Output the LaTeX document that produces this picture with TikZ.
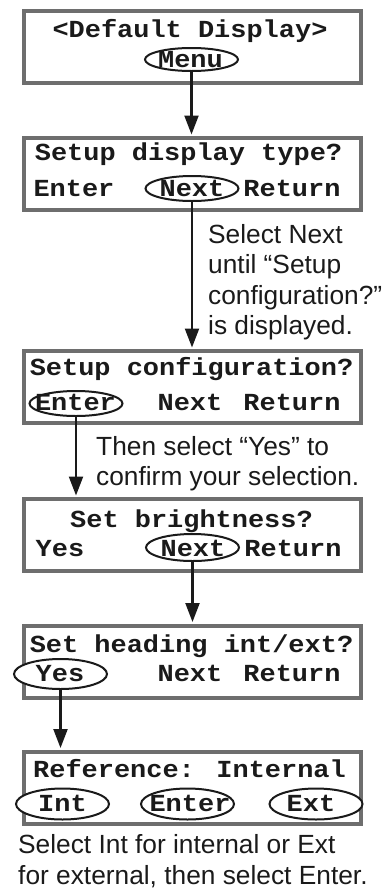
\documentclass[tikz,border=0pt]{standalone}
\usepackage{fontspec}
\setmainfont{Liberation Sans}
\newfontfamily\lcdfont{Liberation Mono}[FakeStretch=1.1]
\usetikzlibrary{arrows.meta,shapes.geometric}
\definecolor{boxgray}{HTML}{6E6E6E}
\definecolor{ink}{HTML}{1A1A1A}
\begin{document}
\begin{tikzpicture}[x=1pt,y=-1pt,
  lcdbox/.style={draw=boxgray,line width=4pt,fill=white,minimum width=337pt,minimum height=72pt,inner sep=0pt},
  lcd/.style={font={\lcdfont\bfseries\fontsize{24.5}{28}\selectfont},text=ink,inner sep=0pt,anchor=base},
  btn/.style={ellipse,draw=ink,line width=2pt,fill=white,minimum width=93pt,inner sep=0pt},
  note/.style={font={\fontsize{26.3}{30.5}\selectfont},text=ink,inner sep=0pt,anchor=base west},
  flow/.style={draw=ink,line width=2.2pt,-{Triangle[length=19pt,width=14pt]},shorten >=1.5pt}]

\useasboundingbox (0,0) rectangle (386,895);

% display boxes
\node[lcdbox] (b1) at (192.5,47) {};
\node[lcdbox] (b2) at (192.5,174) {};
\node[lcdbox] (b3) at (192.5,387) {};
\node[lcdbox] (b4) at (192.5,535) {};
\node[lcdbox] (b5) at (192.5,661.5) {};
\node[lcdbox] (b6) at (192.5,787.5) {};

% button ellipses
\node[btn,minimum height=23pt] (menuE) at (191.5,59.5) {};
\node[btn,minimum height=25pt] (nextA) at (192,188.5) {};
\node[btn,minimum height=25pt] (enterA) at (76,403.5) {};
\node[btn,minimum height=27pt] (nextB) at (192.5,547.5) {};
\node[btn,minimum height=30pt] (yesE) at (60.5,674) {};
\node[btn,minimum height=31pt] (intE) at (62.5,804) {};
\node[btn,minimum height=31pt] (enterB) at (187.5,804) {};
\node[btn,minimum height=31pt] (extE) at (316,804) {};

% box 1
\node[lcd] (t1a) at (190,37) {<Default Display>};
\node[lcd] (t1b) at (190.5,67) {Menu};
% box 2
\node[lcd] (t2a) at (188.5,160) {Setup display type?};
\node[lcd] (t2b) at (74,196) {Enter};
\node[lcd] (t2c) at (192,196) {Next};
\node[lcd] (t2d) at (292,196) {Return};
% box 3
\node[lcd] (t3a) at (191.5,375) {Setup configuration?};
\node[lcd] (t3b) at (75.5,410.5) {Enter};
\node[lcd] (t3c) at (190,410.5) {Next};
\node[lcd] (t3d) at (292,410.5) {Return};
% box 4
\node[lcd] (t4a) at (191.5,527) {Set brightness?};
\node[lcd] (t4b) at (60,556.5) {Yes};
\node[lcd] (t4c) at (193,556.5) {Next};
\node[lcd] (t4d) at (293,556.5) {Return};
% box 5
\node[lcd] (t5a) at (191.5,652) {Set heading int/ext?};
\node[lcd] (t5b) at (60,681.5) {Yes};
\node[lcd] (t5c) at (190,681.5) {Next};
\node[lcd] (t5d) at (292,681.5) {Return};
% box 6
\node[lcd] (t6a) at (189.5,777) {Reference: Internal};
\node[lcd] (t6b) at (62.5,811) {Int};
\node[lcd] (t6c) at (190,811) {Enter};
\node[lcd] (t6d) at (311,811) {Ext};

% notes
\node[note] (n1a) at (208,243) {Select Next};
\node[note] (n1b) at (208,273.5) {until “Setup};
\node[note] (n1c) at (208,304) {configuration?”};
\node[note] (n1d) at (208,334.5) {is displayed.};
\node[note] (n2a) at (96,455) {Then select “Yes” to};
\node[note] (n2b) at (96,485.5) {confirm your selection.};
\node[note] (n3a) at (18,853) {Select Int for internal or Ext};
\node[note] (n3b) at (18,884) {for external, then select Enter.};

% connectors
\draw[flow] (menuE.south) -- (b2.north -| menuE.south);
\draw[flow] (nextA.south) -- (b3.north -| nextA.south);
\draw[flow] (enterA.south) -- (b4.north -| enterA.south);
\draw[flow] (nextB.south) -- (b5.north -| nextB.south);
\draw[flow] (yesE.south) -- (b6.north -| yesE.south);
\end{tikzpicture}
\end{document}
